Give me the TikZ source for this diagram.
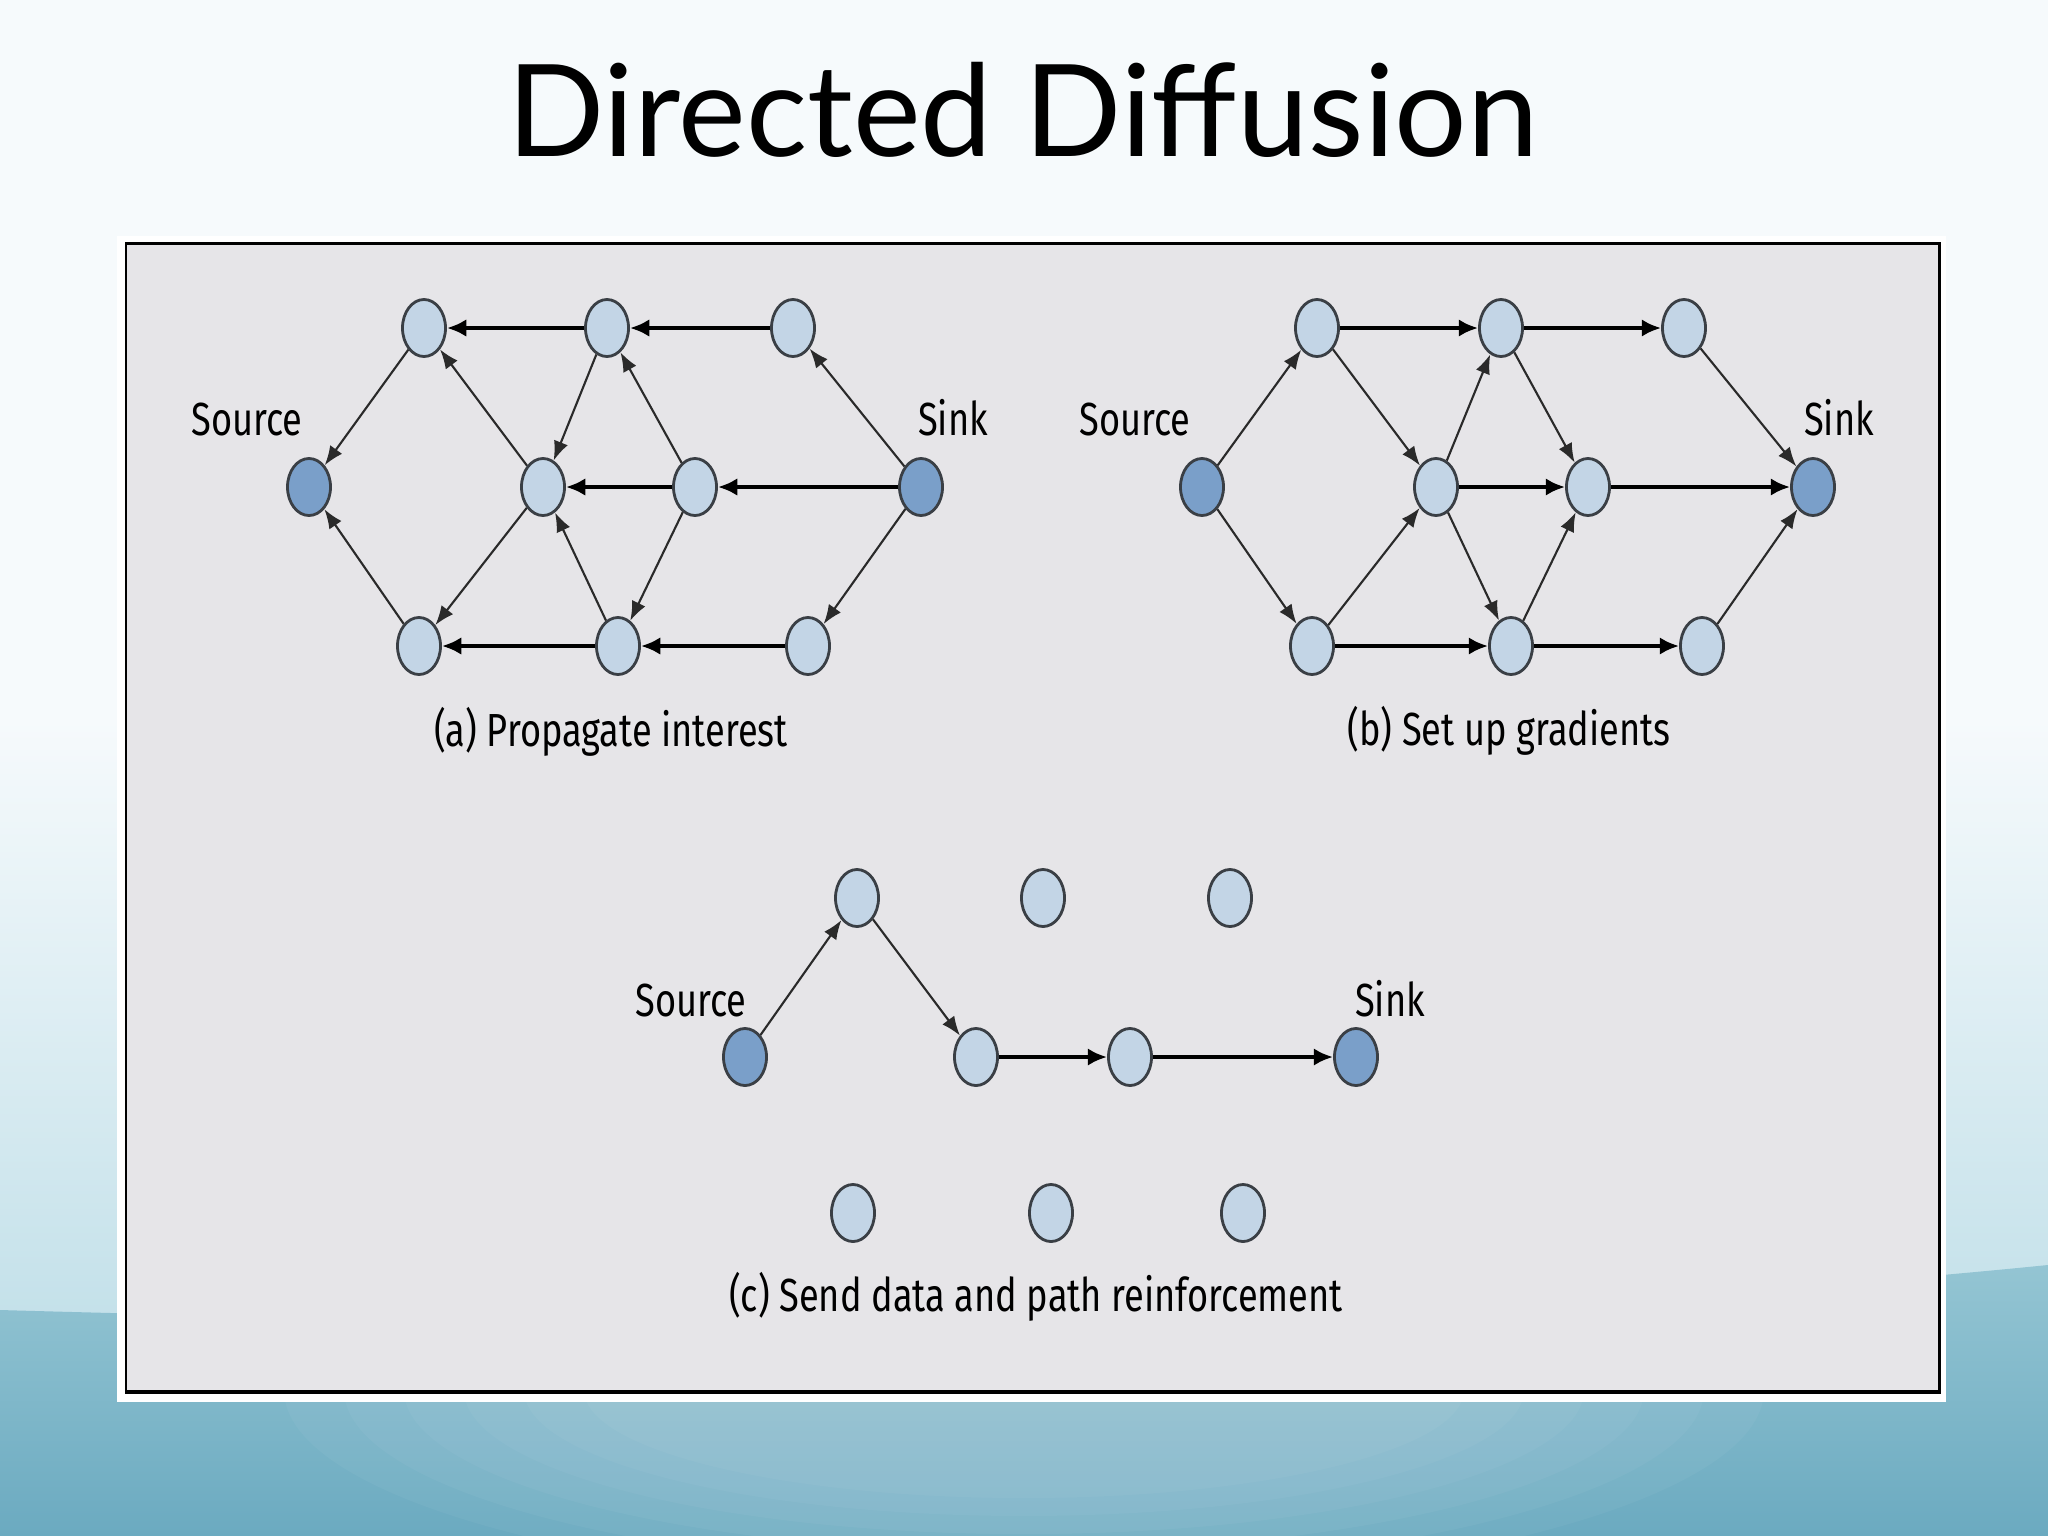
\documentclass[tikz,border=0pt]{standalone}
\usepackage{fontspec}
\usetikzlibrary{arrows.meta,shapes.geometric}
\newfontfamily\ddtitlefont{Lato}
\newfontfamily\ddcondfont[FakeStretch=0.78]{Fira Sans}
\definecolor{ddPanel}{HTML}{E6E5E8}
\definecolor{ddRelay}{HTML}{C3D5E6}
\definecolor{ddEnd}{HTML}{7A9FC9}
\definecolor{ddRim}{HTML}{3A3F45}
\definecolor{ddLine}{HTML}{2A2A2A}
\definecolor{bgTop}{HTML}{F6FAFC}
\definecolor{bgMid}{HTML}{C2E0E9}
\definecolor{bgLow}{HTML}{94C5D3}
\definecolor{bgDeep}{HTML}{6BAAC0}
\tikzset{
  dd relay/.style={ellipse, draw=ddRim, fill=ddRelay, line width=0.8pt, minimum width=0.43cm, minimum height=0.57cm, inner sep=0pt},
  dd end/.style={dd relay, fill=ddEnd},
  dd link/.style={draw=ddLine, line width=0.6pt, -{Latex[length=5.5pt,width=4.2pt]}},
  dd flow/.style={draw=black, line width=1.1pt, -{Latex[length=5.5pt,width=5pt]}},
  dd label/.style={font=\ddcondfont\fontsize{13.2pt}{15pt}\selectfont, text=black, anchor=base, inner sep=0pt},
  dd title/.style={font=\ddtitlefont\fontsize{36.4pt}{44pt}\selectfont, text=black, anchor=base, inner sep=0pt},
}
\begin{document}
\begin{tikzpicture}[x=0.01cm,y=-0.01cm]
  \useasboundingbox (0,0) rectangle (2048,1536);
  % Slide background
  \fill[bgTop] (0,0) rectangle (2048,1536);
  \shade[top color=bgTop, bottom color=bgMid] (0,720) rectangle (2048,1340);
  \shade[top color=bgLow, bottom color=bgDeep] (0,1310) .. controls (700,1330) and (1400,1330) .. (2048,1265) -- (2048,1536) -- (0,1536) -- cycle;
  \foreach \r in {1,...,6}
    \fill[white, opacity=0.04] (1024,1390) ellipse ({380+60*\r} and {90+18*\r});
  \node[dd title] (title) at (1023,156) {Directed Diffusion};
  % Figure panel with white mat
  \fill[white] (117,236) rectangle (1946,1402);
  \filldraw[fill=ddPanel, draw=black, line width=0.85pt] (126,243) rectangle (1939,1392);
  \draw[black, line width=1.4pt] (126,1392) -- (1939,1392);

  % (a) Propagate interest
  \node[dd end] (a-src) at (309,487) {};
  \node[dd end] (a-snk) at (921,487) {};
  \foreach \n/\x/\y in {t1/424/328, t2/607/328, t3/793/328, m1/543/487, m2/695/487,
                        b1/419/646, b2/618/646, b3/808/646}
    \node[dd relay] (a-\n) at (\x,\y) {};
  \foreach \s/\t in {a-t2/a-t1, a-t3/a-t2, a-m2/a-m1, a-snk/a-m2, a-b2/a-b1, a-b3/a-b2}
    \draw[dd flow] (\s) -- (\t);
  \foreach \s/\t in {a-t1/a-src, a-b1/a-src, a-m1/a-t1, a-m2/a-t2, a-t2/a-m1, a-snk/a-t3,
                     a-snk/a-b3, a-m1/a-b1, a-b2/a-m1, a-m2/a-b2}
    \draw[dd link] (\s) -- (\t);
  \node[dd label] (a-srclbl) at (247,435) {Source};
  \node[dd label] (a-snklbl) at (953,435) {Sink};
  \node[dd label] (a-cap) at (611,746) {(a) Propagate interest};

  % (b) Set up gradients
  \node[dd end] (b-src) at (1202,487) {};
  \node[dd end] (b-snk) at (1813,487) {};
  \foreach \n/\x/\y in {t1/1317/328, t2/1501/328, t3/1684/328, m1/1436/487, m2/1588/487,
                        b1/1312/646, b2/1511/646, b3/1702/646}
    \node[dd relay] (b-\n) at (\x,\y) {};
  \foreach \s/\t in {b-t1/b-t2, b-t2/b-t3, b-m1/b-m2, b-m2/b-snk, b-b1/b-b2, b-b2/b-b3}
    \draw[dd flow] (\s) -- (\t);
  \foreach \s/\t in {b-src/b-t1, b-src/b-b1, b-t1/b-m1, b-m1/b-t2, b-t2/b-m2, b-t3/b-snk,
                     b-b1/b-m1, b-m1/b-b2, b-b2/b-m2, b-b3/b-snk}
    \draw[dd link] (\s) -- (\t);
  \node[dd label] (b-srclbl) at (1135,435) {Source};
  \node[dd label] (b-snklbl) at (1839,435) {Sink};
  \node[dd label] (b-cap) at (1509,745) {(b) Set up gradients};

  % (c) Send data and path reinforcement
  \node[dd end] (c-src) at (745,1057) {};
  \node[dd end] (c-snk) at (1356,1057) {};
  \foreach \n/\x/\y in {t1/857/898, t2/1043/898, t3/1230/898, m1/976/1057, m2/1130/1057,
                        b1/853/1213, b2/1051/1213, b3/1243/1213}
    \node[dd relay] (c-\n) at (\x,\y) {};
  \draw[dd link] (c-src) -- (c-t1);
  \draw[dd link] (c-t1) -- (c-m1);
  \draw[dd flow] (c-m1) -- (c-m2);
  \draw[dd flow] (c-m2) -- (c-snk);
  \node[dd label] (c-srclbl) at (691,1016) {Source};
  \node[dd label] (c-snklbl) at (1390,1016) {Sink};
  \node[dd label] (c-cap) at (1036,1311) {(c) Send data and path reinforcement};
\end{tikzpicture}
\end{document}
